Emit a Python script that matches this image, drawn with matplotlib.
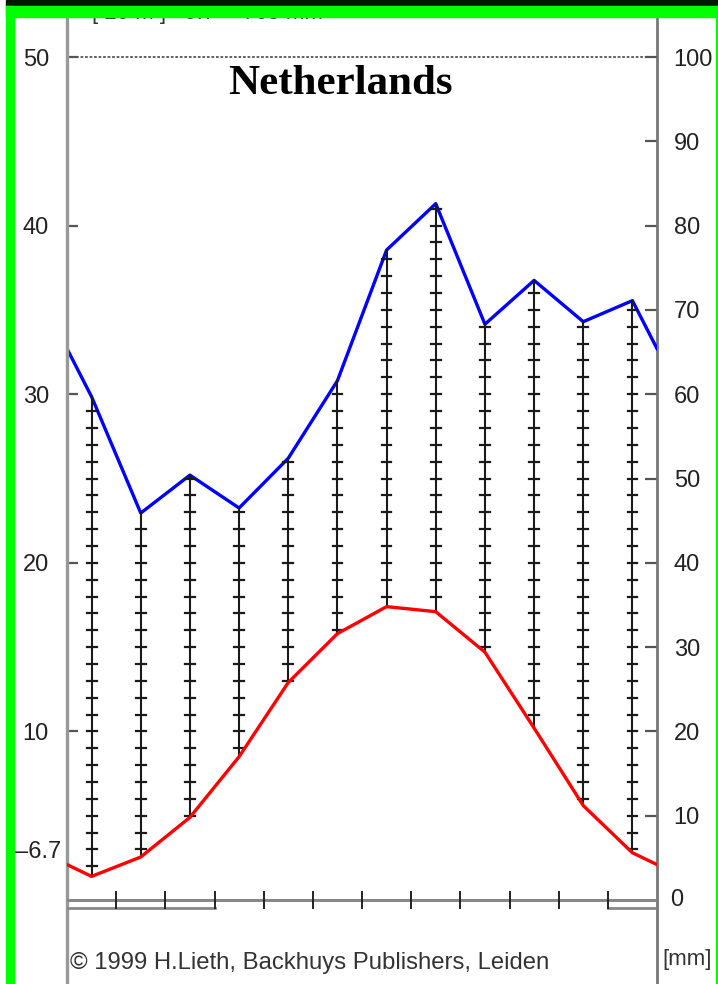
import matplotlib
matplotlib.use("Agg")
import matplotlib.pyplot as plt
from matplotlib.patches import Rectangle
import numpy as np

# ---- data ----
months = ["Jan", "Feb", "Mar", "Apr", "May", "Jun", "Jul", "Aug", "Sep", "Oct", "Nov", "Dec"]
temperature = [1.4, 2.55, 4.9, 8.5, 12.9, 15.8, 17.4, 17.1, 14.7, 10.2, 5.6, 2.8]   # deg C
precipitation = [59.7, 45.9, 50.4, 46.5, 52.4, 61.6, 77.1, 82.6, 68.3, 73.5, 68.6, 71.1]  # mm
temp_ticks = [10, 20, 30, 40, 50]
precip_ticks = [10, 20, 30, 40, 50, 60, 70, 80, 90, 100]
frost_months = [(0, 3), (11, 12)]
min_label = "\u20136.7"
title = "Netherlands"
station_info = "[ 20 m ]   9.7\u00b0   765 mm"
copyright_text = "\u00a9 1999 H.Lieth, Backhuys Publishers, Leiden"

W, H = 718, 984
fig = plt.figure(figsize=(W / 100, H / 100), dpi=100)
fig.patch.set_facecolor("white")

x0, x1 = 67, 657
ax = fig.add_axes([x0 / W, 0, (x1 - x0) / W, 1])
ax2 = ax.twinx()
ax.set_zorder(2)
ax2.set_zorder(1)
ax.patch.set_visible(False)

pxdeg = (900 - 57) / 50.0
ylo = -(H - 900) / pxdeg
yhi = 900 / pxdeg
ax.set_ylim(ylo, yhi)
ax2.set_ylim(2 * ylo, 2 * yhi)
ax.set_xlim(0, 12)

n = len(months)
xc = np.arange(n) + 0.5
# wrap-around ends
t_edge = (temperature[0] + temperature[-1]) / 2
p_edge = (precipitation[0] + precipitation[-1]) / 2
xt = np.concatenate([[0], xc, [12]])
tt = np.concatenate([[t_edge], temperature, [t_edge]])
pp = np.concatenate([[p_edge], precipitation, [p_edge]])

# hatch lines (humid period)
for xi, t, p in zip(xc, temperature, precipitation):
    top = p / 2.0
    ax.plot([xi, xi], [t, top], color="#1a1a1a", lw=1.5, zorder=3)
    levels = np.arange(np.floor(t) + 1, top, 1.0)
    for lv in levels:
        ax.plot([xi - 0.1, xi + 0.1], [lv, lv], color="#1a1a1a", lw=1.6, zorder=3)

ax.plot(xt, tt, color="#ff0000", lw=2.4, zorder=5, solid_joinstyle="round")
ax2.plot(xt, pp, color="#0000ff", lw=2.4, zorder=5, solid_joinstyle="round")

# 50 deg dotted line
ax.axhline(50, color="#555555", lw=1.3, ls=(0, (1.5, 1.0)), zorder=2)

# zero line and frost month bars
ax.axhline(0, color="#888888", lw=2.2, zorder=4)
for a, b in frost_months:
    ax.plot([a, b], [-0.5, -0.5], color="#888888", lw=2.0, zorder=4)
for b in range(1, 12):
    ax.plot([b, b], [0.5, -0.5], color="#222222", lw=1.4, zorder=4)

# spines
for a_ in (ax, ax2):
    for s in ("top", "bottom"):
        a_.spines[s].set_visible(False)
ax.spines["left"].set_color("#999999")
ax.spines["left"].set_linewidth(2.4)
ax.spines["right"].set_visible(False)
ax2.spines["left"].set_visible(False)
ax2.spines["right"].set_color("#777777")
ax2.spines["right"].set_linewidth(2.0)

ax.set_xticks([])
ax.set_yticks(temp_ticks)
ax.set_yticklabels([str(v) for v in temp_ticks])
ax.tick_params(axis="y", direction="in", length=8, width=1.6, color="#555555",
               labelsize=17, pad=13, labelcolor="#222222")
ax2.set_yticks(precip_ticks)
ax2.set_yticklabels([str(v) for v in precip_ticks])
ax2.tick_params(axis="y", direction="in", length=9, width=1.6, color="#555555",
                labelsize=17, pad=12, labelcolor="#222222")
for lab in ax.get_yticklabels() + ax2.get_yticklabels():
    lab.set_fontfamily("Liberation Sans")

# extra texts
fig.text(61 / W, 1 - 852 / H, min_label, ha="right", va="center", fontsize=17,
         family="Liberation Sans", color="#222222")
fig.text(670 / W, 1 - 900 / H, "0", ha="left", va="center", fontsize=17,
         family="Liberation Sans", color="#222222")
fig.text(662 / W, 1 - 960 / H, "[mm]", ha="left", va="center", fontsize=16,
         family="Liberation Sans", color="#333333")
fig.text(70 / W, 1 - 963 / H, copyright_text, ha="left", va="center", fontsize=17.2,
         family="Liberation Sans", color="#333333")
fig.text(340 / W, 1 - 84 / H, title, ha="center", va="center", fontsize=31,
         family="Liberation Serif", fontweight="bold", color="black")
fig.text(92 / W, 1 - 19 / H, station_info, ha="left", va="baseline", fontsize=16,
         family="Liberation Sans", color="#333333")

# frame: dark top band, green border
fig.add_artist(Rectangle((6 / W, 1 - 6 / H), 1, 6 / H, transform=fig.transFigure,
                         color="#001800", zorder=20))
fig.add_artist(Rectangle((6 / W, 1 - 16.5 / H), 1, 10.5 / H, transform=fig.transFigure,
                         color="#00ff00", zorder=20))
fig.add_artist(Rectangle((6 / W, 0), 7.5 / W, 1 - 6 / H, transform=fig.transFigure,
                         color="#00ff00", zorder=20))
fig.add_artist(Rectangle((716 / W, 0), 2 / W, 1 - 6 / H, transform=fig.transFigure,
                         color="#00ff00", zorder=20))

fig.savefig("out.png", dpi=100)
